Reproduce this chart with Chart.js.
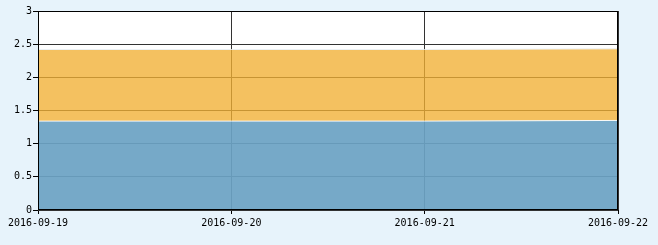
<!DOCTYPE html>
<html>
<head>
<meta charset="utf-8">
<script src="https://cdn.jsdelivr.net/npm/chart.js@4/dist/chart.umd.min.js"></script>
<style>
  html, body { margin: 0; padding: 0; background: #E7F3FB; }
  #wrap { width: 658px; height: 245px; }
</style>
</head>
<body>
<div id="wrap"><canvas id="areaChart"></canvas></div>
<script>
const dates = ["2016-09-19", "2016-09-20", "2016-09-21", "2016-09-22"]
const blueValues = [1.34, 1.34, 1.34, 1.35]
const orangeValues = [1.08, 1.08, 1.08, 1.08]
const yTicks = [0, 0.5, 1, 1.5, 2, 2.5, 3]

// white plot background + black frame around the plot
const plotFrame = {
    id: "plotFrame",
    beforeDraw(chart) {
        const { ctx, chartArea: a } = chart
        ctx.save()
        ctx.fillStyle = "#ffffff"
        ctx.fillRect(a.left, a.top, a.right - a.left, a.bottom - a.top)
        ctx.restore()
    },
    afterDraw(chart) {
        const { ctx, chartArea: a } = chart
        ctx.save()
        ctx.strokeStyle = "#000000"
        ctx.lineWidth = 1
        ctx.strokeRect(Math.round(a.left) + 0.5, Math.round(a.top) + 0.5,
            Math.round(a.right - a.left) - 1, Math.round(a.bottom - a.top) - 1)
        ctx.restore()
    }
}

const font = { family: "'DejaVu Sans Mono', monospace", size: 10 }

new Chart("areaChart", {
    type: "line",
    data: {
        labels: dates,
        datasets: [{
            label: "A",
            data: blueValues,
            backgroundColor: "rgba(108,163,196,0.93)",
            borderColor: "rgba(255,255,255,0.9)",
            borderWidth: 1,
            fill: "origin",
            pointRadius: 0,
            tension: 0
        }, {
            label: "B",
            data: orangeValues,
            backgroundColor: "rgba(241,176,51,0.78)",
            borderColor: "rgba(235,240,245,1)",
            borderWidth: 1,
            fill: "-1",
            pointRadius: 0,
            tension: 0
        }]
    },
    options: {
        responsive: true,
        maintainAspectRatio: false,
        animation: false,
        layout: { padding: { top: 11, right: 40, left: 0, bottom: 0 } },
        plugins: {
            legend: { display: false },
            tooltip: { enabled: false }
        },
        scales: {
            x: {
                offset: false,
                grid: { color: "#333333", tickColor: "#000", tickLength: 4 },
                border: { display: false },
                ticks: { color: "#000", font: font, maxRotation: 0, autoSkip: false, padding: 3 },
                afterFit(scale) { scale.height = 35 }
            },
            y: {
                stacked: true,
                min: 0,
                max: 3,
                afterBuildTicks(scale) { scale.ticks = yTicks.map(v => ({ value: v })) },
                grid: { color: "#333333", tickColor: "#000", tickLength: 5 },
                border: { display: false },
                ticks: {
                    color: "#000",
                    font: font,
                    padding: 1,
                    callback: v => String(v)
                },
                afterFit(scale) { scale.width = 38 }
            }
        }
    },
    plugins: [plotFrame]
})
</script>
</body>
</html>
